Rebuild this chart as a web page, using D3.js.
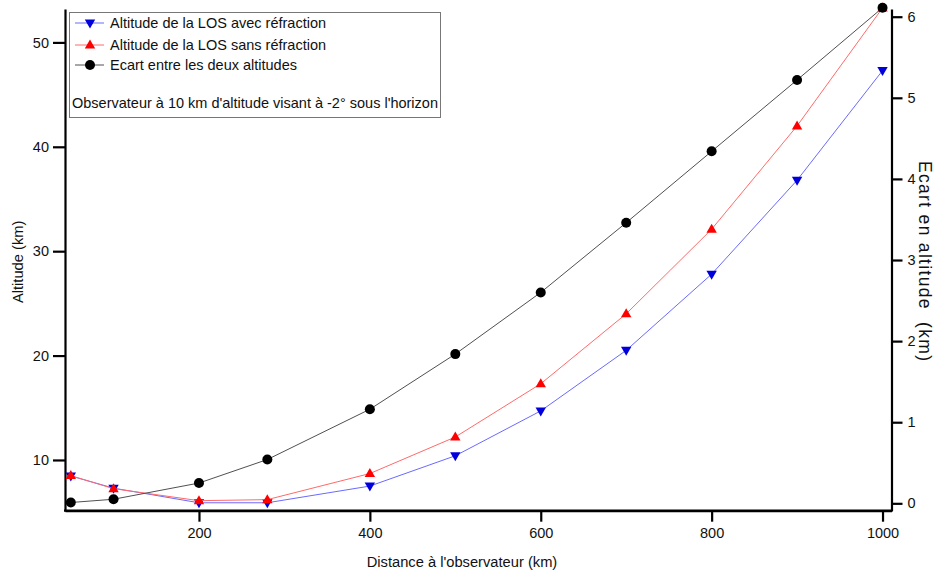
<!DOCTYPE html>
<html><head><meta charset="utf-8">
<script src="https://cdn.jsdelivr.net/npm/d3@7"></script>
<style>
body{margin:0;background:#fff;}
text{font-family:"Liberation Sans",Arial,sans-serif;fill:#111;}
</style></head>
<body>
<svg id="chart" width="936" height="574"></svg>
<script>
const distances = [50, 100, 200, 280, 400, 500, 600, 700, 800, 900, 1000];
const altAvecRefraction = [8.47, 7.3, 5.9, 5.9, 7.5, 10.4, 14.7, 20.5, 27.8, 36.8, 47.3];
const altSansRefraction = [8.5, 7.25, 6.1, 6.2, 8.7, 12.2, 17.3, 24.0, 32.1, 42.0, 53.3];
const ecartAltitudes = [0.01, 0.05, 0.25, 0.54, 1.16, 1.84, 2.6, 3.46, 4.34, 5.22, 6.11];
const xTicks = [200, 400, 600, 800, 1000];
const leftTicks = [10, 20, 30, 40, 50];
const rightTicks = [0, 1, 2, 3, 4, 5, 6];
const seriesNames = ["Altitude de la LOS avec réfraction", "Altitude de la LOS sans réfraction", "Ecart entre les deux altitudes"];
const note = "Observateur à 10 km d'altitude visant à -2° sous l'horizon";

const svg = d3.select("#chart");
const L = 65, R = 891.5, T = 9, B = 510.7;

const x = d3.scaleLinear().domain([43.2, 1010.5]).range([L, R]);
const yL = d3.scaleLinear().domain([5.14, 53.2]).range([B, T]);
const yR = d3.scaleLinear().domain([-0.091, 6.095]).range([B, T]);

const fmt = d3.format("d");
const fs = "14.5px";
const gx = svg.append("g").attr("transform", `translate(0,${B})`)
  .call(d3.axisBottom(x).tickValues(xTicks).tickFormat(fmt).tickSize(11).tickPadding(6).tickSizeOuter(0));
const gl = svg.append("g").attr("transform", `translate(${L},0)`)
  .call(d3.axisLeft(yL).tickValues(leftTicks).tickFormat(fmt).tickSize(12).tickPadding(4).tickSizeOuter(0));
const gr = svg.append("g").attr("transform", `translate(${R},0)`)
  .call(d3.axisRight(yR).tickValues(rightTicks).tickFormat(fmt).tickSize(11).tickPadding(5).tickSizeOuter(0));
[gx, gl, gr].forEach(g => {
  g.select(".domain").attr("stroke", "#000").attr("stroke-width", 2.2);
  g.selectAll(".tick line").attr("stroke", "#000").attr("stroke-width", 2.2);
  g.selectAll(".tick text").attr("font-size", fs).attr("font-family", "Liberation Sans, Arial, sans-serif").attr("fill", "#111");
});
svg.append("line").attr("x1", L - 1).attr("x2", R + 1).attr("y1", B).attr("y2", B).attr("stroke", "#000").attr("stroke-width", 2.2);

// Axis titles
svg.append("text").attr("x", 462).attr("y", 567).attr("text-anchor", "middle").attr("font-size", "14.7px")
  .text("Distance à l'observateur (km)");
svg.append("text").attr("transform", `translate(23,${(T + B) / 2 + 2}) rotate(-90)`).attr("text-anchor", "middle").attr("font-size", "14.7px")
  .text("Altitude (km)");
svg.append("text").attr("transform", `translate(918.5,${261}) rotate(90)`).attr("text-anchor", "middle").attr("font-size", "17.5px")
  .attr("textLength", 200).attr("lengthAdjust", "spacing")
  .style("white-space", "pre").text("Ecart en altitude  (km)");

// Series
const series = [
  {vals: altAvecRefraction, scale: yL, line: "#6a6aff", mark: "#0000dd", sym: "down"},
  {vals: altSansRefraction, scale: yL, line: "#ff6a6a", mark: "#ff0000", sym: "up"},
  {vals: ecartAltitudes, scale: yR, line: "#505050", mark: "#000", sym: "circle"}
];
const triUp = "M0,-5.5L5.2,3.5L-5.2,3.5Z";
const triDown = "M0,5.5L5.2,-3.5L-5.2,-3.5Z";
function drawMarker(g, sym, color, cx, cy) {
  if (sym === "circle") g.append("circle").attr("cx", cx).attr("cy", cy).attr("r", 5).attr("fill", color);
  else g.append("path").attr("d", sym === "up" ? triUp : triDown).attr("transform", `translate(${cx},${cy})`).attr("fill", color);
}
series.forEach(s => {
  const data = distances.map((d, i) => [d, s.vals[i]]);
  const g = svg.append("g");
  g.append("path").datum(data).attr("fill", "none").attr("stroke", s.line).attr("stroke-width", 1)
    .attr("d", d3.line().x(d => x(d[0])).y(d => s.scale(d[1])));
  data.forEach(d => drawMarker(g, s.sym, s.mark, x(d[0]), s.scale(d[1])));
});

// Legend
const lg = svg.append("g");
lg.append("rect").attr("x", 69.5).attr("y", 12.5).attr("width", 371).attr("height", 105)
  .attr("fill", "#fff").attr("stroke", "#777").attr("stroke-width", 1);
const rowsY = [23, 45, 65];
series.forEach((s, i) => {
  lg.append("line").attr("x1", 75).attr("x2", 104).attr("y1", rowsY[i]).attr("y2", rowsY[i]).attr("stroke", s.line).attr("stroke-width", 1);
  drawMarker(lg, s.sym, s.mark, 90, rowsY[i]);
  lg.append("text").attr("x", 110).attr("y", rowsY[i] + 5).attr("font-size", "14.5px").text(seriesNames[i]);
});
lg.append("text").attr("x", 72).attr("y", 108).attr("font-size", "14.5px").text(note);
</script>
</body></html>
